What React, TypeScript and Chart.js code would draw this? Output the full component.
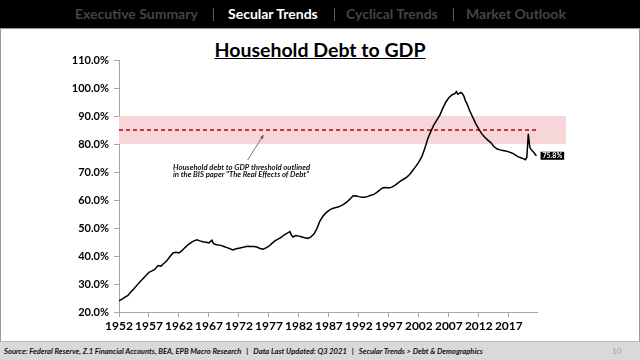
import React, { useEffect, useRef } from "react";
import { Chart, registerables } from "chart.js";

Chart.register(...registerables);

// ---- Data ----
const years = [
  1952.0, 1952.5, 1953.0, 1953.5, 1954.0, 1954.5, 1955.0, 1955.5, 1956.0, 1956.5,
  1957.0, 1957.5, 1958.0, 1958.5, 1959.0, 1959.5, 1960.0, 1960.5, 1961.0, 1961.5,
  1962.0, 1962.5, 1963.0, 1963.5, 1964.0, 1964.5, 1965.0, 1965.5, 1966.0, 1966.5,
  1967.0, 1967.5, 1967.75, 1968.25, 1969.0, 1969.5, 1970.0, 1970.5, 1971.0, 1971.5,
  1972.0, 1972.5, 1973.0, 1973.5, 1974.0, 1974.5, 1975.0, 1975.5, 1976.0, 1976.5,
  1977.0, 1977.5, 1978.0, 1978.5, 1979.0, 1979.5, 1980.0, 1980.5, 1980.75, 1981.0,
  1981.5, 1982.0, 1982.5, 1983.0, 1983.5, 1984.0, 1984.5, 1985.0, 1985.5, 1986.0,
  1986.5, 1987.0, 1987.5, 1988.0, 1988.5, 1989.0, 1989.5, 1990.0, 1990.5, 1991.0,
  1991.5, 1992.0, 1992.5, 1993.0, 1993.5, 1994.0, 1994.5, 1995.0, 1995.5, 1996.0,
  1996.5, 1997.0, 1997.5, 1998.0, 1998.5, 1999.0, 1999.5, 2000.0, 2000.5, 2001.0,
  2001.5, 2002.0, 2002.5, 2003.0, 2003.5, 2004.0, 2004.5, 2005.0, 2005.5, 2006.0,
  2006.5, 2007.0, 2007.5, 2008.0, 2008.25, 2008.5, 2008.75, 2009.0, 2009.25, 2009.5,
  2009.75, 2010.0, 2010.5, 2011.0, 2011.5, 2012.0, 2012.5, 2013.0, 2013.5, 2014.0,
  2014.5, 2015.0, 2015.5, 2016.0, 2016.5, 2017.0, 2017.5, 2018.0, 2018.5, 2019.0,
  2019.5, 2019.75, 2020.0, 2020.25, 2020.5, 2020.75, 2021.0, 2021.25, 2021.5, 2021.625,
];

const debtToGdp = [
  24.0, 24.6, 25.3, 25.9, 27.2, 28.3, 29.6, 30.8, 31.9, 33.0,
  34.2, 34.7, 35.3, 36.6, 36.4, 37.4, 38.4, 39.8, 41.1, 41.3,
  41.1, 41.9, 43.0, 44.0, 44.8, 45.4, 45.8, 45.4, 45.1, 44.9,
  44.7, 45.6, 44.4, 44.0, 43.8, 43.4, 43.0, 42.6, 42.2, 42.6,
  42.8, 43.0, 43.3, 43.5, 43.4, 43.4, 43.2, 42.7, 42.4, 42.9,
  43.5, 44.5, 45.4, 46.0, 46.6, 47.5, 48.1, 48.7, 47.5, 46.8,
  47.3, 47.1, 46.8, 46.5, 46.3, 46.8, 47.8, 49.8, 52.5, 54.2,
  55.4, 56.3, 56.9, 57.2, 57.5, 57.9, 58.5, 59.3, 60.3, 61.4,
  61.5, 61.2, 61.0, 61.0, 61.3, 61.7, 62.0, 62.7, 63.6, 64.4,
  64.5, 64.3, 64.6, 65.2, 66.0, 66.8, 67.5, 68.2, 69.2, 70.6,
  72.0, 73.6, 75.5, 78.5, 82.0, 84.5, 86.8, 88.5, 90.3, 92.8,
  95.0, 96.5, 97.5, 98.0, 98.7, 97.8, 98.1, 98.4, 98.0, 97.1,
  95.5, 94.5, 91.8, 89.5, 87.2, 85.3, 83.6, 82.4, 81.4, 80.5,
  79.1, 78.3, 77.9, 77.7, 77.5, 77.2, 76.8, 76.2, 75.5, 75.1,
  74.7, 74.4, 75.2, 83.6, 78.8, 77.9, 77.4, 76.8, 76.0, 75.8,
];

const xTickYears = [1952, 1957, 1962, 1967, 1972, 1977, 1982, 1987, 1992, 1997, 2002, 2007, 2012, 2017];
const yMin = 20;
const yMax = 110;
const yStep = 10;
const thresholdLow = 80;
const thresholdHigh = 90;
const thresholdLine = 85;
const lastValueLabel = "75.8%";

const navItems = ["Executive Summary", "Secular Trends", "Cyclical Trends", "Market Outlook"];
const activeNav = "Secular Trends";
const chartTitle = "Household Debt to GDP";
const annotationLines = [
  "Household debt to GDP threshold outlined",
  "in the BIS paper \"The Real Effects of Debt\"",
];
const footerText =
  "Source: Federal Reserve, Z.1 Financial Accounts, BEA, EPB Macro Research   |   Data Last Updated: Q3 2021   |   Secular Trends > Debt & Demographics";
const pageNumber = "10";

const FONT = "Lato, 'Open Sans', sans-serif";

const overlayPlugin = {
  id: "overlay",
  beforeDatasetsDraw(chart: any) {
    const { ctx, chartArea, scales } = chart;
    const y = scales.y;
    const top = y.getPixelForValue(thresholdHigh);
    const bottom = y.getPixelForValue(thresholdLow);
    ctx.save();
    ctx.fillStyle = "#f6d6d8";
    ctx.fillRect(chartArea.left, top, chartArea.right - chartArea.left + 29, bottom - top);
    const mid = y.getPixelForValue(thresholdLine);
    ctx.strokeStyle = "#c00000";
    ctx.lineWidth = 1.3;
    ctx.setLineDash([4, 3]);
    ctx.beginPath();
    ctx.moveTo(chartArea.left, mid);
    ctx.lineTo(chartArea.right, mid);
    ctx.stroke();
    ctx.restore();
  },
  afterDatasetsDraw(chart: any) {
    const { ctx, scales } = chart;
    const x = scales.x;
    const y = scales.y;
    ctx.save();
    // annotation text
    ctx.fillStyle = "#111";
    ctx.font = `italic bold 7.7px ${FONT}`;
    ctx.textBaseline = "middle";
    ctx.textAlign = "left";
    const tx = x.getPixelForValue(1961);
    annotationLines.forEach((line, i) => {
      ctx.fillText(line, tx, y.getPixelForValue(71.6) + i * 7.5);
    });
    // arrow
    const ax0 = x.getPixelForValue(1973.45);
    const ay0 = y.getPixelForValue(74.3);
    const ax1 = x.getPixelForValue(1976.1);
    const ay1 = y.getPixelForValue(83.2);
    ctx.strokeStyle = "#555";
    ctx.fillStyle = "#555";
    ctx.lineWidth = 0.8;
    ctx.beginPath();
    ctx.moveTo(ax0, ay0);
    ctx.lineTo(ax1, ay1);
    ctx.stroke();
    const ang = Math.atan2(ay1 - ay0, ax1 - ax0);
    const hl = 4;
    ctx.beginPath();
    ctx.moveTo(ax1, ay1);
    ctx.lineTo(ax1 - hl * Math.cos(ang - 0.45), ay1 - hl * Math.sin(ang - 0.45));
    ctx.lineTo(ax1 - hl * Math.cos(ang + 0.45), ay1 - hl * Math.sin(ang + 0.45));
    ctx.closePath();
    ctx.fill();
    // last value label
    const lx = x.getPixelForValue(years[years.length - 1]) + 4;
    const ly = y.getPixelForValue(debtToGdp[debtToGdp.length - 1]);
    ctx.font = `bold 7px ${FONT}`;
    const w = ctx.measureText(lastValueLabel).width + 4;
    ctx.fillStyle = "#000";
    ctx.fillRect(lx, ly - 4, w, 8);
    ctx.fillStyle = "#fff";
    ctx.textAlign = "left";
    ctx.fillText(lastValueLabel, lx + 2, ly + 0.3);
    ctx.restore();
  },
};

export default function App() {
  const canvasRef = useRef<HTMLCanvasElement | null>(null);

  useEffect(() => {
    document.body.style.margin = "0";
    const canvas = canvasRef.current;
    if (!canvas) return;
    const chart = new Chart(canvas, {
      type: "line",
      data: {
        datasets: [
          {
            data: years.map((yr, i) => ({ x: yr, y: debtToGdp[i] })),
            borderColor: "#000",
            borderWidth: 1.5,
            pointRadius: 0,
            tension: 0,
            fill: false,
          },
        ],
      },
      options: {
        animation: false,
        responsive: false,
        events: [],
        layout: { padding: { top: 60, right: 103, bottom: 0, left: 0 } },
        plugins: { legend: { display: false }, tooltip: { enabled: false }, title: { display: false } },
        scales: {
          x: {
            type: "linear",
            min: 1952,
            max: 2021.7,
            afterBuildTicks(scale: any) {
              scale.ticks = xTickYears.map((v) => ({ value: v }));
            },
            afterFit(scale: any) {
              scale.height = 48;
            },
            ticks: {
              autoSkip: false,
              maxRotation: 0,
              padding: 2,
              color: "#000",
              font: { family: FONT, size: 12, weight: "bold" },
              callback: (v: any) => String(v),
            },
            grid: { drawOnChartArea: false, drawTicks: true, tickLength: 5, color: "#a6a6a6" },
            border: { color: "#a6a6a6" },
          },
          y: {
            min: yMin,
            max: yMax,
            afterFit(scale: any) {
              scale.width = 119;
            },
            ticks: {
              stepSize: yStep,
              padding: 5,
              color: "#000",
              font: { family: FONT, size: 11, weight: "bold" },
              callback: (v: any) => Number(v).toFixed(1) + "%",
            },
            grid: { drawOnChartArea: false, drawTicks: true, tickLength: 5, color: "#a6a6a6" },
            border: { color: "#a6a6a6" },
          },
        },
      },
      plugins: [overlayPlugin],
    } as any);
    return () => chart.destroy();
  }, []);

  const navLefts = [75, 228, 346, 466];
  const sepLefts = [213, 334, 453];

  return (
    <div style={{ position: "absolute", left: 0, top: 0, width: 640, height: 360, background: "#fff", overflow: "hidden", fontFamily: FONT }}>
      <div style={{ position: "absolute", left: 0, top: 0, width: 640, height: 28, background: "#000" }}>
        {navItems.map((t, i) => (
          <span
            key={t}
            style={{
              position: "absolute",
              left: navLefts[i],
              top: 4,
              fontSize: 14,
              fontWeight: 700,
              lineHeight: "20px",
              color: t === activeNav ? "#fff" : "#444",
              whiteSpace: "nowrap",
            }}
          >
            {t}
          </span>
        ))}
        {sepLefts.map((l) => (
          <div key={l} style={{ position: "absolute", left: l, top: 8, width: 1, height: 13, background: "#5a5a5a" }} />
        ))}
      </div>
      <div style={{ position: "absolute", left: 0, top: 28, width: 638, height: 330, border: "1px solid #999", borderBottom: "none" }} />
      <div
        style={{
          position: "absolute",
          left: 0,
          top: 37,
          width: 640,
          textAlign: "center",
          fontSize: 19.5,
          fontWeight: 700,
          textDecoration: "underline",
          color: "#000",
          lineHeight: "26px",
        }}
      >
        {chartTitle}
      </div>
      <div style={{ position: "absolute", left: 0, top: 341, width: 640, height: 19, background: "#d9d9d9", borderTop: "1px solid #bbb" }}>
        <span
          style={{
            position: "absolute",
            left: 4,
            top: 4,
            fontSize: 7.6,
            fontStyle: "italic",
            fontWeight: 700,
            color: "#111",
            whiteSpace: "pre",
            lineHeight: "10px",
          }}
        >
          {footerText}
        </span>
        <span style={{ position: "absolute", left: 612, top: 3, fontSize: 8, color: "#a0a0a0", lineHeight: "12px" }}>{pageNumber}</span>
      </div>
      <canvas ref={canvasRef} width={640} height={360} style={{ position: "absolute", left: 0, top: 0, width: 640, height: 360 }} />
    </div>
  );
}
